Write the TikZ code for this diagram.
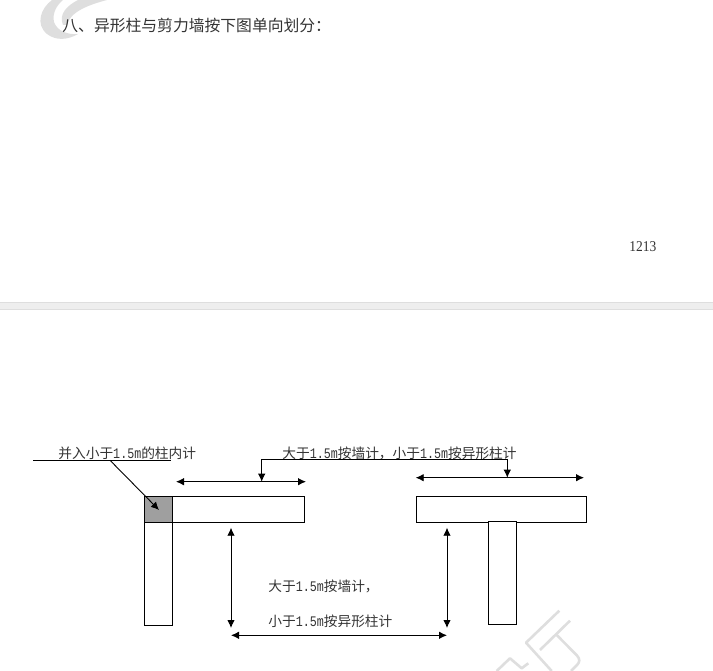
\documentclass[tikz,border=0pt]{standalone}
\usepackage{fontspec}
\usetikzlibrary{arrows.meta}
\setmainfont{Noto Sans CJK SC}
\newfontfamily\monof[FakeStretch=0.8]{Liberation Mono}
\newfontfamily\numf{Liberation Serif}
\newcommand{\hw}[1]{{\monof\fontsize{14.6}{15}\selectfont #1}}
\definecolor{markgray}{HTML}{DEDEDE}
\definecolor{bandgray}{HTML}{EEEEEE}
\begin{document}
\begin{tikzpicture}[x=1pt, y=-1pt, >={Latex[length=8pt,width=7.5pt]}, line width=0.9pt,
    wall/.style = {draw, rectangle, inner sep=0pt, fill=white},
    core/.style = {draw, rectangle, inner sep=0pt, fill=gray!75},
    note/.style = {anchor=west, inner sep=0pt, text=black!80, font=\fontsize{13.7}{14}\selectfont},
    wmark/.style = {draw=markgray, line width=2.6pt, line join=round}]
    \useasboundingbox (0,0) rectangle (713,671);
    % watermark
    \fill[markgray] (52,0) .. controls (41,8) and (35,24) .. (47,34) .. controls (56,41) and (68,40) .. (78,34) .. controls (68,35) and (57,31) .. (54,22) .. controls (52,13) and (57,5) .. (63,0) -- cycle;
    \fill[markgray] (63,25) .. controls (58,14) and (68,5) .. (78,0) -- (107,0) .. controls (88,5) and (70,12) .. (67,25) -- cycle;
    \draw[wmark] (559.3,610.7) -- (526,642.7) -- (551.7,671);
    \draw[wmark] (570,620.7) -- (540,650);
    \draw[wmark] (556.7,635) -- (577,655.5) .. controls (580,659) and (580,662) .. (577,665) -- (571,671);
    \draw[wmark] (496.7,671) -- (510,658.3) -- (521.7,668.3) -- (528.3,663.3);
    % page band
    \fill[bandgray] (0,302) rectangle (713,309);
    \draw[markgray, line width=0.6pt] (0,302) -- (713,302) (0,309) -- (713,309);
    % texts
    \node[note, font=\fontsize{15.8}{16}\selectfont] (title) at (62,26) {八、异形柱与剪力墙按下图单向划分：};
    \node[note, xscale=0.9, font=\numf\fontsize{15}{16}\selectfont] (page) at (629,246.5) {1213};
    \node[note] (t0) at (58,453) {并入小于\hw{1.5m}的柱内计};
    \node[note] (t1) at (282,453) {大于\hw{1.5m}按墙计，小于\hw{1.5m}按异形柱计};
    \node[note] (t2) at (268,586) {大于\hw{1.5m}按墙计，};
    \node[note] (t3) at (268,621) {小于\hw{1.5m}按异形柱计};
    % left section
    \node[wall, minimum width=28.5pt, minimum height=103pt] (colL) at (158.5,573.5) {};
    \node[wall, minimum width=159.5pt, minimum height=26.5pt] (beamL) at (224.2,509.2) {};
    \node[core, minimum width=28.5pt, minimum height=26.5pt] (coreL) at (158.5,509.2) {};
    % right section
    \node[wall, minimum width=169.5pt, minimum height=26.5pt] (beamR) at (501.5,509.2) {};
    \node[wall, minimum width=28pt, minimum height=102.5pt] (colR) at (502,573) {};
    % points
    \coordinate (a0) at (33,460.3);
    \coordinate (a1) at (171,460.3);
    \coordinate (a2) at (110,460.3);
    \coordinate (a3) at (159,510);
    \coordinate (b0) at (176,481.7);
    \coordinate (b1) at (306,481.7);
    \coordinate (b2) at (415.7,477.7);
    \coordinate (b3) at (584,477.7);
    \coordinate (c0) at (261.7,459);
    \coordinate (c1) at (507.3,459);
    \coordinate (c2) at (261.7,481.7);
    \coordinate (c3) at (507.3,477.7);
    \coordinate (d0) at (231,527.7);
    \coordinate (d1) at (231,628);
    \coordinate (d2) at (447,527.7);
    \coordinate (d3) at (447,628);
    \coordinate (e0) at (231,635.3);
    \coordinate (e1) at (447,635.3);
    % connectors
    \draw (a0) -- (a1);
    \draw[->] (a2) -- (a3);
    \draw[<->] (b0) -- (b1);
    \draw[<->] (b2) -- (b3);
    \draw (c0) -- (c1);
    \draw[->] (c0) -- (c2);
    \draw[->] (c1) -- (c3);
    \draw[<->] (d0) -- (d1);
    \draw[<->] (d2) -- (d3);
    \draw[<->] (e0) -- (e1);
\end{tikzpicture}
\end{document}
